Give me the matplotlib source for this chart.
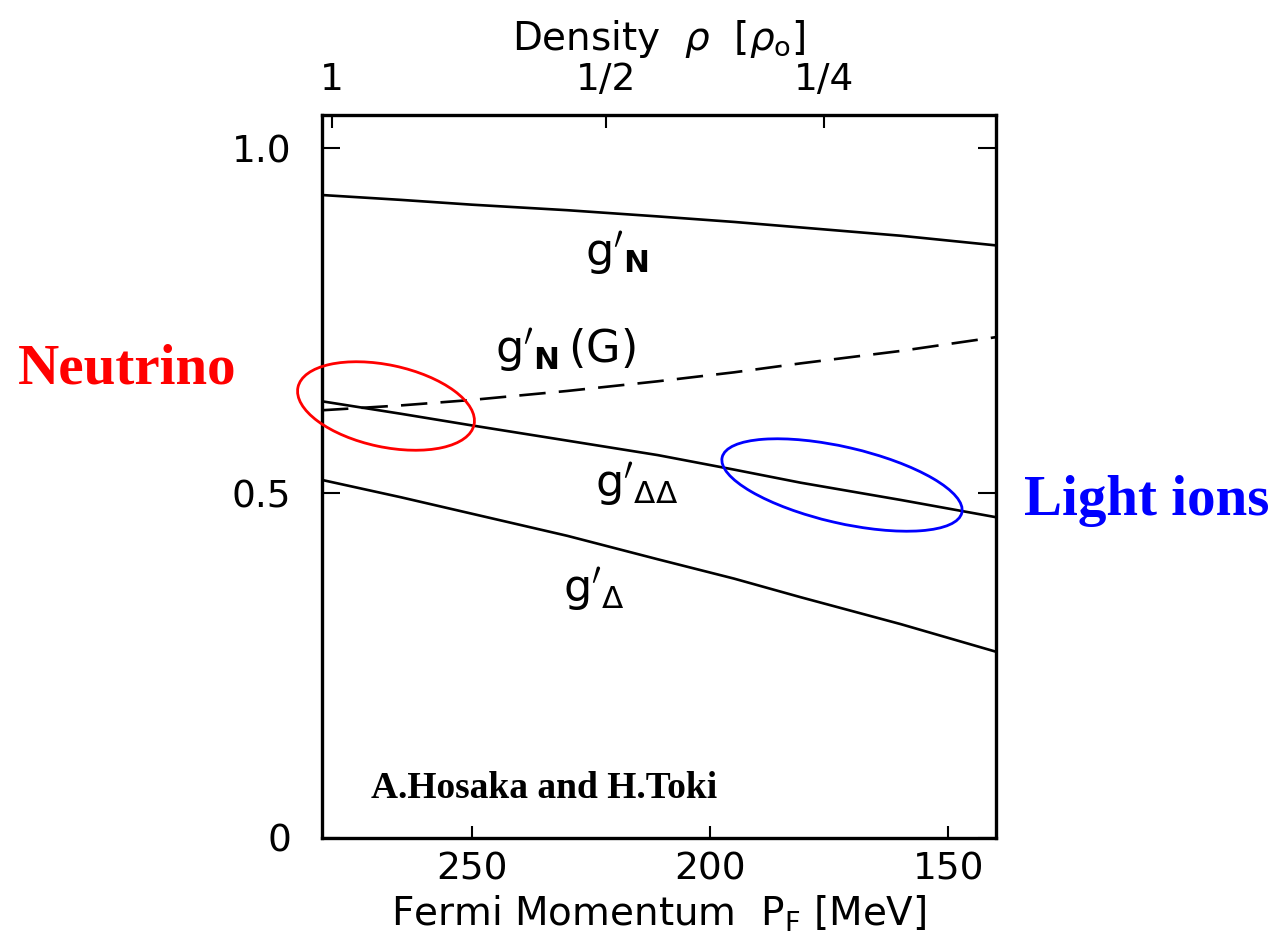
import numpy as np
import matplotlib
matplotlib.use("Agg")
import matplotlib.pyplot as plt
from matplotlib.patches import Ellipse

# ---- data ----
pf = [281.5, 265, 250, 230, 211, 195, 181, 160, 140]     # Fermi momentum [MeV]
g_N = [0.932, 0.925, 0.918, 0.910, 0.901, 0.893, 0.885, 0.873, 0.859]
g_NG = [0.620, 0.627, 0.635, 0.648, 0.662, 0.675, 0.688, 0.706, 0.726]
g_DD = [0.633, 0.615, 0.598, 0.576, 0.555, 0.534, 0.515, 0.490, 0.465]
g_D = [0.519, 0.494, 0.470, 0.438, 0.404, 0.376, 0.349, 0.310, 0.270]

x_ticks = [250, 200, 150]
y_ticks = [0, 0.5, 1.0]
y_ticklabels = ["0", "0.5", "1.0"]
density_ticks = [1.0, 0.5, 0.25]
density_labels = ["1", "1/2", "1/4"]
pf0 = 279.5

fig = plt.figure(figsize=(12.76, 9.41), dpi=100)
ax = fig.add_axes([322/1276, 1-838/941, (996-322)/1276, (838-115)/941])

lw = 1.9
ax.plot(pf, g_N, color="black", lw=lw)
ax.plot(pf, g_NG, color="black", lw=lw, dashes=(10, 5))
ax.plot(pf, g_DD, color="black", lw=lw)
ax.plot(pf, g_D, color="black", lw=lw)

ax.set_xlim(281.5, 140)
ax.set_ylim(0, 1.048)
ax.set_xticks(x_ticks)
ax.set_yticks(y_ticks)
ax.set_yticklabels(y_ticklabels)
ax.tick_params(axis="y", direction="in", labelsize=27, width=1.5, length=13,
               right=True, pad=22)
ax.tick_params(axis="x", direction="in", labelsize=27, width=1.5, length=9, pad=10)
for s in ax.spines.values():
    s.set_linewidth(2.4)

ax.set_xlabel("Fermi Momentum  P$_\\mathrm{F}$ [MeV]", fontsize=28, labelpad=4)

top = ax.twiny()
top.set_xlim(ax.get_xlim())
top.set_xticks([pf0 * d ** (1/3) for d in density_ticks])
top.set_xticklabels(density_labels)
top.tick_params(axis="x", direction="in", labelsize=27, length=9, width=1.5, pad=12)
top.set_xlabel(r"Density  $\rho$  [$\rho_\mathrm{o}$]", fontsize=28, labelpad=9)

# curve labels
lab_kw = dict(fontsize=32, ha="center", va="center", color="black")
ax.text(219.5, 0.848, r"$\mathrm{g}'_{\mathbf{N}}$", **lab_kw)
ax.text(230.5, 0.707, r"$\mathrm{g}'_{\mathbf{N}}\,\mathrm{(G)}$", **lab_kw)
ax.text(215.5, 0.512, r"$\mathrm{g}'_{\Delta\Delta}$", **lab_kw)
ax.text(224.5, 0.36, r"$\mathrm{g}'_{\Delta}$", **lab_kw)

ax.text(0.33, 0.069, "A.Hosaka and H.Toki", transform=ax.transAxes, fontsize=27,
        fontweight="bold", family="Liberation Serif", ha="center", va="center")

# overlay in pixel coordinates for annotations
ov = fig.add_axes([0, 0, 1, 1], facecolor="none")
ov.set_xlim(0, 1276)
ov.set_ylim(941, 0)
ov.axis("off")
ov.add_patch(Ellipse((386, 406), 180, 82, angle=12, fill=False, ec="red", lw=2))
ov.add_patch(Ellipse((842, 485), 246, 76, angle=13, fill=False, ec="blue", lw=2))
ov.text(127, 370, "Neutrino", color="red", fontsize=41, fontweight="bold",
        family="Liberation Serif", ha="center", va="center")
ov.text(1147, 501, "Light ions", color="blue", fontsize=41, fontweight="bold",
        family="Liberation Serif", ha="center", va="center")

fig.savefig("out.png", dpi=100)
